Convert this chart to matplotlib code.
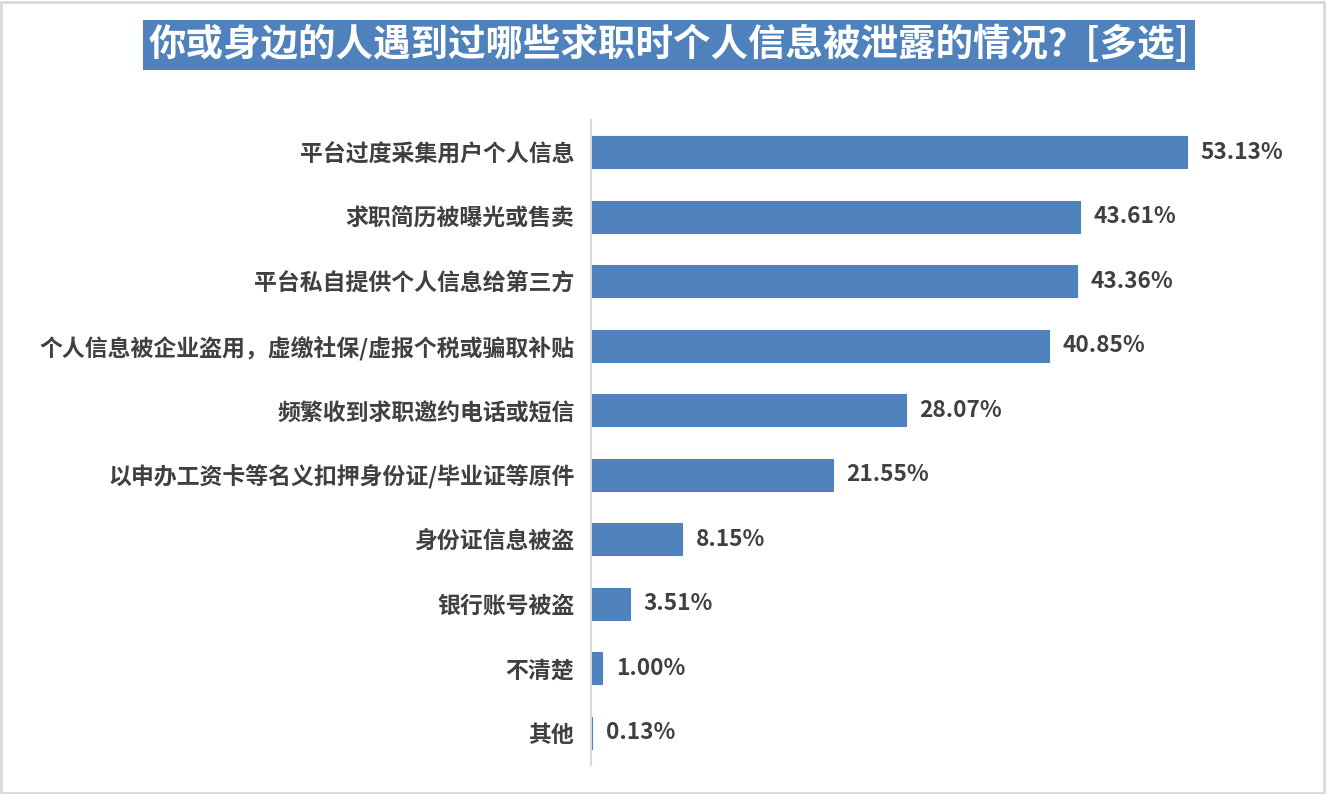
import matplotlib
matplotlib.use("Agg")
import matplotlib.pyplot as plt
from matplotlib.patches import Rectangle

plt.rcParams['font.family'] = ['Noto Sans CJK SC', 'DejaVu Sans']

# 数据
categories = [
    "平台过度采集用户个人信息",
    "求职简历被曝光或售卖",
    "平台私自提供个人信息给第三方",
    "个人信息被企业盗用，虚缴社保/虚报个税或骗取补贴",
    "频繁收到求职邀约电话或短信",
    "以申办工资卡等名义扣押身份证/毕业证等原件",
    "身份证信息被盗",
    "银行账号被盗",
    "不清楚",
    "其他",
]
values = [53.13, 43.61, 43.36, 40.85, 28.07, 21.55, 8.15, 3.51, 1.00, 0.13]
title = "你或身边的人遇到过哪些求职时个人信息被泄露的情况？[多选]"

bar_color = "#4F81BD"
text_color = "#404040"

W, H = 1327, 794
fig = plt.figure(figsize=(W / 100, H / 100), dpi=100)

# axes placement in pixels
left, right, top, bottom = 591, 1264, 120, 765
ax = fig.add_axes([left / W, 1 - bottom / H, (right - left) / W, (bottom - top) / H])

y = list(range(len(categories)))
ax.barh(y, values, height=0.5, color=bar_color, edgecolor=bar_color, linewidth=0.8)
ax.set_ylim(len(categories) - 0.5, -0.5)
ax.set_xlim(0, 60)

for yi, v in zip(y, values):
    ax.text(v + 1.2, yi, f"{v:.2f}%", va="center", ha="left",
            fontsize=16.3, fontweight="bold", color=text_color)

ax.set_yticks(y)
ax.set_yticklabels(categories, fontsize=16.5, fontweight="bold", color=text_color)
ax.tick_params(axis="y", length=0, pad=12)
ax.set_xticks([])
for s in ["top", "right", "bottom"]:
    ax.spines[s].set_visible(False)
ax.spines["left"].set_color("#D9D9D9")
ax.spines["left"].set_linewidth(1.5)

# title in blue box
fig.text(669 / W, 1 - 45 / H, title, ha="center", va="center",
         fontsize=27, fontweight="bold", color="white",
         bbox=dict(boxstyle="square,pad=0.15", facecolor=bar_color, edgecolor="none"))

# outer frame
fig.patches.append(Rectangle((0.001, 0.001), 0.997, 0.997, transform=fig.transFigure,
                             fill=False, edgecolor="#D9D9D9", linewidth=2))

fig.savefig("out.png", dpi=100)
